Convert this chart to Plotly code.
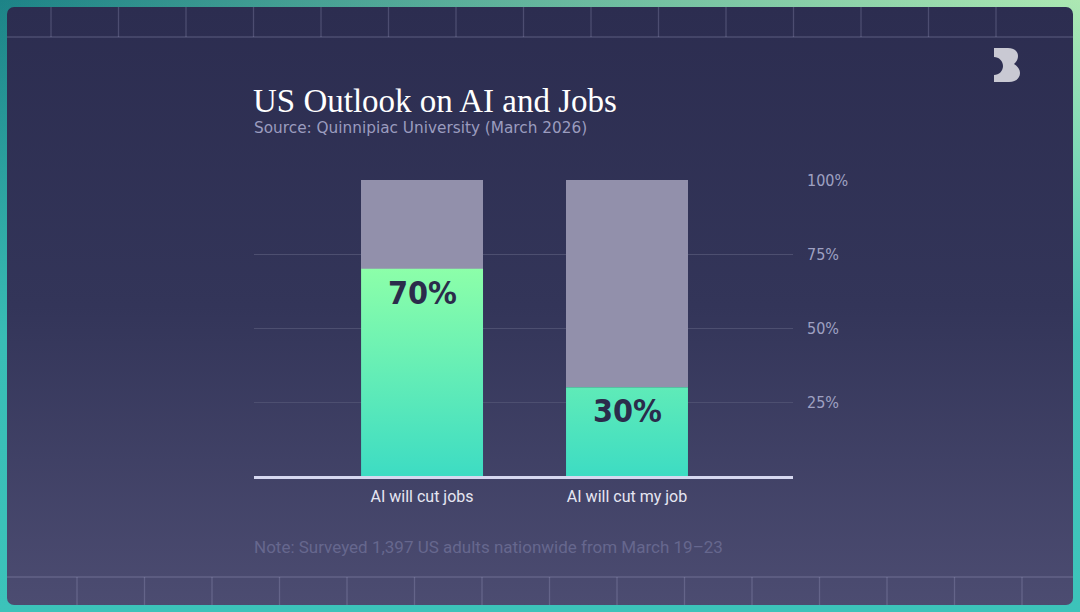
"""US Outlook on AI and Jobs - stacked percent bars."""

import base64

import plotly.graph_objects as go

# data
categories = ["AI will cut jobs", "AI will cut my job"]
agree_pct = [70, 30]
tick_vals = [25, 50, 75, 100]
tick_text = ["25%", "50%", "75%", "100%"]

title_text = "US Outlook on AI and Jobs"
source_text = "Source: Quinnipiac University (March 2026)"
note_text = "Note: Surveyed 1,397 US adults nationwide from March 19\u201323"

# geometry of the page (pixels)
W, H = 1080, 612
L, R, T, B = 254, 793, 180, 476
PW, PH = R - L, B - T
BAR_W = 0.595

NARROW = "DejaVu Sans Condensed, Liberation Sans Narrow, Roboto, sans-serif"


def py(y):
    """pixel y -> paper y"""
    return (B - y) / PH


def background_svg():
    lines = []
    for k in range(15):
        x = 51 + 67.5 * k
        lines.append(f'<line x1="{x}" y1="7" x2="{x}" y2="37"/>')
    for k in range(15):
        x = 77 + 67.5 * k
        lines.append(f'<line x1="{x}" y1="577" x2="{x}" y2="605"/>')
    lines.append('<line x1="7" y1="37" x2="1073" y2="37"/>')
    lines.append('<line x1="7" y1="577" x2="1073" y2="577"/>')
    svg = f"""<svg xmlns="http://www.w3.org/2000/svg" width="{W}" height="{H}" viewBox="0 0 {W} {H}">
<defs>
<linearGradient id="o" x1="0" y1="0" x2="1" y2="0">
<stop offset="0" stop-color="#1d8387"/><stop offset="1" stop-color="#ade8b3"/></linearGradient>
<linearGradient id="o2" x1="0" y1="0" x2="0" y2="1">
<stop offset="0" stop-color="#3cc3ba" stop-opacity="0"/><stop offset="0.55" stop-color="#3cc3ba" stop-opacity="0.9"/>
<stop offset="1" stop-color="#3cc3ba"/></linearGradient>
<linearGradient id="p" x1="0" y1="0" x2="0" y2="1">
<stop offset="0" stop-color="#2c2d50"/><stop offset="0.5" stop-color="#333559"/>
<stop offset="1" stop-color="#4c4c71"/></linearGradient>
</defs>
<rect width="{W}" height="{H}" fill="url(#o)"/>
<rect width="{W}" height="{H}" fill="url(#o2)"/>
<rect x="7" y="7" width="1066" height="598" rx="7" fill="url(#p)"/>
<g stroke="#bfc1e2" stroke-opacity="0.22" stroke-width="1.3">{''.join(lines)}</g>
<path fill="#c9c9d3" d="M994,48 L1008,48 C1015,48 1018,52 1018,56 C1018,60 1016,62 1014,64
C1017,66 1020,69 1020,73 C1020,78 1016,82 1009,82 L994,82 L994,75
C999,75 1003,71 1003,66 C1003,61 999,57 994,57 Z"/>
</svg>"""
    return "data:image/svg+xml;base64," + base64.b64encode(svg.encode()).decode()


fig = go.Figure()

# grey remainder of each bar
fig.add_trace(go.Bar(
    x=list(range(len(categories))),
    y=[100 - v for v in agree_pct],
    base=agree_pct,
    width=BAR_W,
    marker=dict(color="#9290ab", line=dict(width=0)),
    hoverinfo="skip",
    showlegend=False,
))

# green share, drawn with a vertical gradient
for i, v in enumerate(agree_pct):
    x0, x1 = i - BAR_W / 2, i + BAR_W / 2
    fig.add_trace(go.Scatter(
        x=[x0, x1, x1, x0, x0],
        y=[0, 0, v, v, 0],
        mode="none",
        fill="toself",
        fillgradient=dict(
            type="vertical",
            colorscale=[[0, "#3ddcc3"], [1, "#8cffa9"]],
            start=0,
            stop=max(agree_pct),
        ),
        hoverinfo="skip",
        showlegend=False,
    ))
    fig.add_annotation(
        x=i, y=v, xref="x", yref="y", text=f"<b>{v}%</b>",
        showarrow=False, yanchor="top", yshift=-3,
        font=dict(family=NARROW, size=32, color="#2b2c4b"),
    )

fig.add_annotation(
    x=-0.005, y=py(101), xref="paper", yref="paper", text=title_text,
    showarrow=False, xanchor="left", yanchor="middle",
    font=dict(family="Liberation Serif, serif", size=33, color="#ffffff"),
)
fig.add_annotation(
    x=-0.003, y=py(128), xref="paper", yref="paper", text=source_text,
    showarrow=False, xanchor="left", yanchor="middle",
    font=dict(family="DejaVu Sans, sans-serif", size=15.3, color="#9b9cbf"),
)
fig.add_annotation(
    x=-0.003, y=py(547), xref="paper", yref="paper", text=note_text,
    showarrow=False, xanchor="left", yanchor="middle",
    font=dict(family="Roboto, sans-serif", size=17, color="#66678e"),
)

fig.add_layout_image(
    source=background_svg(),
    xref="paper", yref="paper",
    x=-L / PW, y=B / PH,
    sizex=W / PW, sizey=H / PH,
    xanchor="left", yanchor="top",
    sizing="stretch", layer="below",
)

fig.update_layout(
    width=W, height=H,
    margin=dict(l=L, r=W - R, t=T, b=H - B, pad=0),
    paper_bgcolor="rgba(0,0,0,0)",
    plot_bgcolor="rgba(0,0,0,0)",
    barmode="overlay",
    bargap=0,
    xaxis=dict(
        range=[-0.82, 1.81],
        tickvals=list(range(len(categories))),
        ticktext=categories,
        showgrid=False, zeroline=False,
        showline=True, linecolor="#d6d8f0", linewidth=3,
        ticks="", ticklabelstandoff=4,
        tickfont=dict(family="Roboto, sans-serif", size=16, color="#e6e6f2"),
        fixedrange=True,
    ),
    yaxis=dict(
        range=[0, 100],
        side="right",
        tickvals=tick_vals, ticktext=tick_text,
        showgrid=True, gridcolor="#4d4f70", gridwidth=1,
        zeroline=False, showline=False, ticks="",
        ticklabelstandoff=13,
        tickfont=dict(family=NARROW, size=16, color="#9fa1c2"),
        fixedrange=True,
    ),
)

fig.write_html(
    "out.html",
    config={"displayModeBar": False},
    post_script="document.body.style.margin='0';",
)
